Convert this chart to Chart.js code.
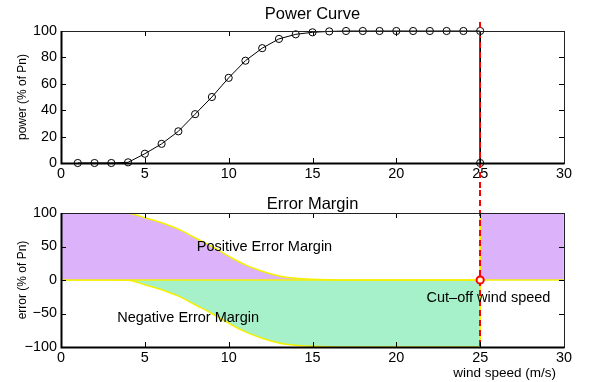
<!DOCTYPE html>
<html>
<head>
<meta charset="utf-8">
<script src="https://cdn.jsdelivr.net/npm/chart.js@4.4.0/dist/chart.umd.min.js"></script>
<style>
  html, body { margin: 0; padding: 0; background: #fff; }
  #wrap { position: relative; width: 589px; height: 382px; }
  .box { position: absolute; left: 0; width: 589px; }
  #top { top: 0; height: 190px; }
  #bot { top: 190px; height: 192px; }
</style>
</head>
<body>
<div id="wrap">
  <div class="box" id="top"><canvas id="power"></canvas></div>
  <div class="box" id="bot"><canvas id="error"></canvas></div>
</div>
<script>
// power curve
const windSpeed = [1, 2, 3, 4, 5, 6, 7, 8, 9, 10, 11, 12, 13, 14, 15, 16, 17, 18, 19, 20, 21, 22, 23, 24, 25]
const power = [0, 0, 0, 0.5, 7, 14.5, 24, 37, 50, 64.5, 77.5, 87, 94, 97.5, 99, 99.7, 100, 100, 100, 100, 100, 100, 100, 100, 100]
const cutOffSpeed = 25

// error margins
const errSpeed = [0, 1, 2, 3, 4, 5, 6, 7, 8, 9, 10, 11, 12, 13, 14, 15, 16, 17, 18, 19, 20, 21, 22, 23, 24, 25]
const posErr = [100, 100, 100, 100, 99.5, 93, 85.5, 76, 63, 50, 35.5, 22.5, 13, 6, 2.5, 1, 0.3, 0, 0, 0, 0, 0, 0, 0, 0, 0]
const negErr = [0, 0, 0, 0, -0.5, -7, -14.5, -24, -37, -50, -64.5, -77.5, -87, -94, -97.5, -99, -99.7, -100, -100, -100, -100, -100, -100, -100, -100, -100]
const blockSpeed = [25, 25, 30, 30]
const blockErr = [0, 100, 100, 0]

const xTicks = [0, 5, 10, 15, 20, 25, 30]
const powerTicks = [0, 20, 40, 60, 80, 100]
const errTicks = [-100, -50, 0, 50, 100]

const FONT = '"Liberation Sans", Arial, Helvetica, sans-serif'
Chart.defaults.font.family = FONT
Chart.defaults.font.size = 14.4
Chart.defaults.color = '#000'

const PURPLE = '#dcb2fb'
const GREEN = '#a6f1c9'
const YELLOW = '#f5f000'

const pts = (xs, ys) => xs.map((x, i) => ({ x, y: ys[i] }))

// box, inward ticks, titles, texts and the red cut-off line
const matlabFrame = {
  id: 'matlabFrame',
  afterDatasetDraw(chart, args, opts) {
    if (args.index !== opts.lineAfter) return
    const { ctx, chartArea } = chart
    const x = Math.round(chart.scales.x.getPixelForValue(cutOffSpeed))
    ctx.save()
    ctx.strokeStyle = '#ff0000'
    ctx.lineWidth = 2
    ctx.setLineDash([6, 4])
    ctx.beginPath()
    ctx.moveTo(x, opts.lineTop(chartArea))
    ctx.lineTo(x, opts.lineBottom(chart))
    ctx.stroke()
    ctx.restore()
  },
  afterDatasetsDraw(chart, args, opts) {
    const { ctx, chartArea, scales } = chart
    ctx.save()
    ctx.fillStyle = '#000'
    ctx.textBaseline = 'middle'
    ctx.font = '16.5px ' + FONT
    ctx.textAlign = 'center'
    ctx.fillText(opts.title, (chartArea.left + chartArea.right) / 2, chartArea.top + opts.titleOffset)
    ctx.font = '14.5px ' + FONT
    ctx.textAlign = 'left'
    ;(opts.notes || []).forEach(n => {
      ctx.fillText(n.text, scales.x.getPixelForValue(n.x), scales.y.getPixelForValue(n.y))
    })
    if (opts.xLabel) {
      ctx.font = '13.5px ' + FONT
      ctx.textAlign = 'right'
      ctx.fillText(opts.xLabel, chartArea.right - 8, chart.height - 9)
    }
    ctx.restore()
  },
  afterDraw(chart) {
    const { ctx, chartArea: a, scales } = chart
    const len = 5
    ctx.save()
    ctx.strokeStyle = '#000'
    ctx.lineWidth = 1
    ctx.beginPath()
    scales.x.ticks.forEach(t => {
      const px = Math.round(scales.x.getPixelForValue(t.value)) + 0.5
      ctx.moveTo(px, a.bottom); ctx.lineTo(px, a.bottom - len)
      ctx.moveTo(px, a.top); ctx.lineTo(px, a.top + len)
    })
    scales.y.ticks.forEach(t => {
      const py = Math.round(scales.y.getPixelForValue(t.value)) + 0.5
      ctx.moveTo(a.left, py); ctx.lineTo(a.left + len, py)
      ctx.moveTo(a.right, py); ctx.lineTo(a.right - len, py)
    })
    ctx.stroke()
    ctx.strokeStyle = '#222'
    ctx.strokeRect(Math.round(a.left) + 0.5, Math.round(a.top) + 0.5, Math.round(a.right - a.left), Math.round(a.bottom - a.top))
    ctx.lineWidth = 2
    ctx.strokeStyle = '#000'
    ctx.beginPath()
    ctx.moveTo(Math.round(a.left) + 0.5, Math.round(a.top))
    ctx.lineTo(Math.round(a.left) + 0.5, Math.round(a.bottom) + 0.5)
    ctx.lineTo(Math.round(a.right) + 0.5, Math.round(a.bottom) + 0.5)
    ctx.stroke()
    ctx.restore()
  },
}

const xScale = height => ({
  type: 'linear',
  min: 0,
  max: 30,
  afterBuildTicks: s => { s.ticks = xTicks.map(v => ({ value: v })) },
  ticks: { padding: 2, maxRotation: 0 },
  grid: { display: false, drawTicks: false },
  border: { display: false },
  afterFit: s => { s.height = height },
})

const yScale = (min, max, ticks, label) => ({
  type: 'linear',
  min,
  max,
  afterBuildTicks: s => { s.ticks = ticks.map(v => ({ value: v })) },
  ticks: { padding: 4, callback: v => String(v).replace('-', '\u2212') },
  grid: { display: false, drawTicks: false },
  border: { display: false },
  title: { display: true, text: label, font: { size: 12 }, padding: { top: 15 } },
  afterFit: s => { s.width = 61 },
})

new Chart(document.getElementById('power'), {
  type: 'line',
  data: {
    datasets: [
      {
        data: pts(windSpeed, power).concat([{ x: cutOffSpeed, y: 0 }]),
        borderColor: '#000',
        borderWidth: 1,
        pointRadius: 3.6,
        pointBorderWidth: 1,
        pointBorderColor: '#000',
        pointBackgroundColor: 'rgba(0,0,0,0)',
        tension: 0,
        clip: 6,
      },
    ],
  },
  options: {
    responsive: true,
    maintainAspectRatio: false,
    animation: false,
    events: [],
    layout: { padding: { top: 31, right: 25, left: 0, bottom: 0 } },
    scales: { x: xScale(27), y: yScale(0, 100, powerTicks, 'power (% of Pn)') },
    plugins: {
      legend: { display: false },
      tooltip: { enabled: false },
      matlabFrame: {
        title: 'Power Curve',
        titleOffset: -17,
        lineAfter: 0,
        lineTop: a => a.top - 9,
        lineBottom: c => c.height,
      },
    },
  },
  plugins: [matlabFrame],
})

new Chart(document.getElementById('error'), {
  type: 'line',
  data: {
    datasets: [
      {
        // cut-off marker
        data: [{ x: cutOffSpeed, y: 0 }],
        showLine: false,
        pointRadius: 3.6,
        pointBorderWidth: 2,
        pointBorderColor: '#ff0000',
        pointBackgroundColor: '#ffffe0',
        clip: 6,
      },
      {
        data: [{ x: cutOffSpeed, y: -100 }, { x: cutOffSpeed, y: 100 }],
        borderColor: YELLOW,
        borderWidth: 1.5,
        pointRadius: 0,
      },
      {
        data: [{ x: 0, y: 0 }, { x: 30, y: 0 }],
        borderColor: YELLOW,
        borderWidth: 1.5,
        pointRadius: 0,
      },
      {
        data: pts(errSpeed, posErr),
        borderColor: YELLOW,
        borderWidth: 1.5,
        backgroundColor: PURPLE,
        fill: 'origin',
        pointRadius: 0,
        cubicInterpolationMode: 'monotone',
      },
      {
        data: pts(errSpeed, negErr),
        borderColor: YELLOW,
        borderWidth: 1.5,
        backgroundColor: GREEN,
        fill: 'origin',
        pointRadius: 0,
        cubicInterpolationMode: 'monotone',
      },
      {
        data: pts(blockSpeed, blockErr),
        borderColor: YELLOW,
        borderWidth: 1.5,
        backgroundColor: PURPLE,
        fill: 'origin',
        pointRadius: 0,
        tension: 0,
      },
    ],
  },
  options: {
    responsive: true,
    maintainAspectRatio: false,
    animation: false,
    events: [],
    layout: { padding: { top: 23, right: 25, left: 0, bottom: 0 } },
    scales: { x: xScale(35), y: yScale(-100, 100, errTicks, 'error (% of Pn)') },
    plugins: {
      legend: { display: false },
      tooltip: { enabled: false },
      matlabFrame: {
        title: 'Error Margin',
        titleOffset: -9,
        lineAfter: 1,
        lineTop: () => 0,
        lineBottom: c => c.chartArea.bottom,
        xLabel: 'wind speed (m/s)',
        notes: [
          { text: 'Positive Error Margin', x: 8.1, y: 49 },
          { text: 'Negative Error Margin', x: 3.35, y: -57 },
          { text: 'Cut\u2013off wind speed', x: 21.8, y: -27 },
        ],
      },
    },
  },
  plugins: [matlabFrame],
})
</script>
</body>
</html>
